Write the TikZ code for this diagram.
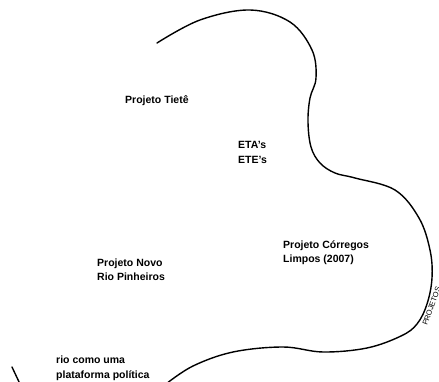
\documentclass[tikz,border=0pt]{standalone}
\usepackage{fontspec}
\setmainfont{Liberation Sans}
\begin{document}
\begin{tikzpicture}[x=1pt,y=-1pt,
  label/.style={anchor=north west,inner sep=0pt,align=left,
    font=\bfseries\fontsize{10.5}{14.5}\selectfont},
  edge/.style={line width=1.4pt,line cap=round,line join=round}]
\useasboundingbox (0,0) rectangle (439,382);
\clip (0,0) rectangle (439,382);
% main outline
\draw[edge] plot[smooth,tension=0.6] coordinates {
  (157,43) (200,20) (250,10) (290,22) (312,50) (316,78) (310,98)
  (308,122) (311,147) (320,163) (335,173) (355,178) (395,190)
  (419,218) (430,250) (432,278) (427,304) (417,324) (401,336)
  (367,348) (323,352) (283,347) (233,352) (193,366) (166,384)};
% fragment of the neighbouring outline
\draw[edge] (12,367) -- (20,384);
% labels
\node[label] (tiete) at (125,95.5) {Projeto Tietê};
\node[label] (eta) at (238,141.5) {ETA's\\ETE's};
\node[label] (novo) at (97,258.5) {Projeto Novo\\Rio Pinheiros};
\node[label] (corregos) at (283,240.5) {Projeto Córregos\\Limpos (2007)};
\node[label] (rio) at (56,356) {rio como uma\\plataforma política};
\node[inner sep=0pt,rotate=70,font=\fontsize{7.5}{9}\selectfont]
  (projetos) at (431.5,306) {PROJETOS};
\end{tikzpicture}
\end{document}
